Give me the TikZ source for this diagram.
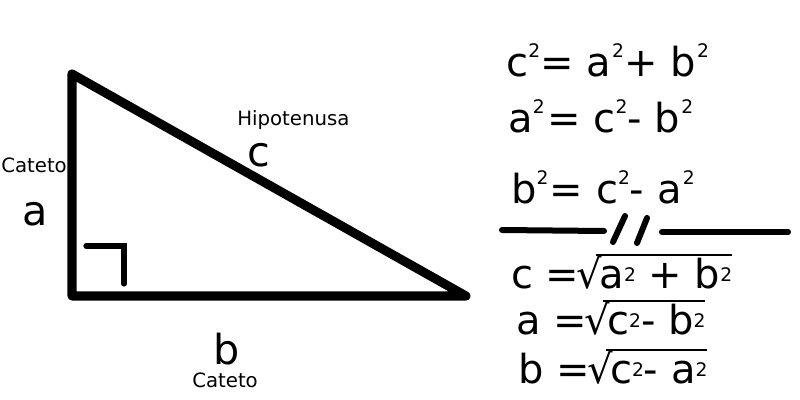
\documentclass[tikz,border=0pt]{standalone}
\usepackage{fontspec}
\setmainfont{DejaVu Sans}
\usepackage{tikz}

\newcommand{\sq}{\raisebox{14pt}{\fontsize{14}{14}\selectfont 2}}
\newcommand{\lo}{\raisebox{5pt}{\fontsize{14}{14}\selectfont 2}}
\newcommand{\vinc}[1]{\sbox0{#1}\rlap{\rule[24pt]{\wd0}{1.4pt}}\usebox0}

\begin{document}
\begin{tikzpicture}[x=0.75pt,y=-0.75pt,
    side/.style={line width=6.8pt,line cap=round,line join=round},
    breakline/.style={line width=4.5pt,line cap=round},
    small/.style={font=\fontsize{14.8}{17}\selectfont,inner sep=0pt},
    big/.style={font=\fontsize{31}{36}\selectfont,inner sep=0pt},
    formula/.style={font=\fontsize{30}{36}\selectfont,inner sep=0pt,anchor=base west}]
  \useasboundingbox (0,0) rectangle (800,400);

  % triangle
  \coordinate (top) at (72,74);
  \coordinate (corner) at (72,296);
  \coordinate (tip) at (466,296);
  \draw[side] (top) -- (corner) -- (tip) -- cycle;
  \draw[line width=3.8pt,line cap=round,line join=miter] (86,246) -- (124,246) -- (124,284);

  % labels
  \node[small,anchor=base west] (catA) at (1,172) {Cateto};
  \node[big,anchor=base west] (la) at (22,225) {a};
  \node[small,anchor=base west] (hip) at (237,125) {Hipotenusa};
  \node[big,anchor=base west] (lc) at (247,166) {c};
  \node[big,anchor=base west] (lb) at (213,364) {b};
  \node[small,anchor=base west] (catB) at (192,387) {Cateto};

  % squares
  \node[formula] (f1) at (506,76) {c\sq= a\kern1pt\sq+ b\kern1pt\sq};
  \node[formula] (f2) at (508,132) {a\sq\kern2pt= c\sq- b\kern1pt\sq};
  \node[formula] (f3) at (511,203) {b\sq\kern1pt= c\sq- a\kern1pt\sq};

  % break line
  \draw[breakline] (502,230) -- (604,231);
  \draw[breakline] (613,242) -- (625,216);
  \draw[breakline] (637,243) -- (647,218);
  \draw[breakline] (662,232) -- (788,232);

  % roots
  \node[formula] (r1) at (511,288) {c =\kern-2pt√\kern-5pt\vinc{\kern3pt a\lo\ + b\lo}};
  \node[formula] (r2) at (516,334) {a =\kern-2pt√\kern-5pt\vinc{\kern3pt c\lo- b\lo}};
  \node[formula] (r3) at (518,383) {b =\kern-2pt√\kern-5pt\vinc{\kern3pt c\lo- a\lo}};
\end{tikzpicture}
\end{document}
